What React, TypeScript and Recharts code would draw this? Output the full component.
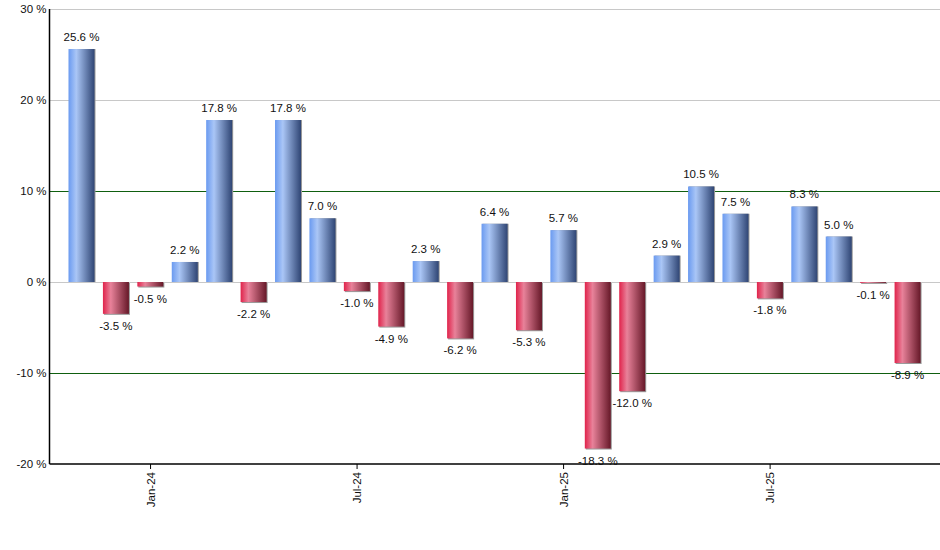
import React from "react";
import { BarChart, Bar, XAxis, YAxis, CartesianGrid, LabelList } from "recharts";

const months = [
  "Nov-23", "Dec-23", "Jan-24", "Feb-24", "Mar-24", "Apr-24", "May-24", "Jun-24", "Jul-24",
  "Aug-24", "Sep-24", "Oct-24", "Nov-24", "Dec-24", "Jan-25", "Feb-25", "Mar-25", "Apr-25",
  "May-25", "Jun-25", "Jul-25", "Aug-25", "Sep-25", "Oct-25", "Nov-25",
];
const changes = [
  25.6, -3.5, -0.5, 2.2, 17.8, -2.2, 17.8, 7.0, -1.0, -4.9, 2.3, -6.2, 6.4, -5.3, 5.7,
  -18.3, -12.0, 2.9, 10.5, 7.5, -1.8, 8.3, 5.0, -0.1, -8.9,
];
const shownTicks = ["Jan-24", "Jul-24", "Jan-25", "Jul-25"];
const yTicks = [-20, -10, 0, 10, 20, 30];
const gridColors: Record<number, string> = { [-20]: "none", [-10]: "#0f5f0f", 0: "#c8c8c8", 10: "#0f5f0f", 20: "#c8c8c8", 30: "#c8c8c8" };

const data = months.map((m, i) => ({ month: m, value: changes[i] }));

const FONT = "'Liberation Sans', Arial, sans-serif";

function BarShape(props: any) {
  const { x, y, width, height, payload } = props;
  const top = Math.min(y, y + height);
  const h = Math.abs(height);
  const fill = payload.value >= 0 ? "url(#gradUp)" : "url(#gradDown)";
  return (
    <g>
      <rect x={x + 1} y={top + (payload.value < 0 ? 1 : 0)} width={width} height={h} fill="#9a9a9a" />
      <rect x={x} y={top} width={width} height={h} fill={fill} />
    </g>
  );
}

function ValueLabel(props: any) {
  const { x, y, width, height, value } = props;
  const top = Math.min(y, y + height);
  const bottom = Math.max(y, y + height);
  const cy = value >= 0 ? top - 12 : bottom + 12;
  return (
    <text x={x + width / 2} y={cy} dy="0.35em" textAnchor="middle" fontSize={11.5} fontFamily={FONT} fill="#111">
      {`${value.toFixed(1)} %`}
    </text>
  );
}

function MonthTick(props: any) {
  const { x, y, payload } = props;
  if (!shownTicks.includes(payload.value)) return <g />;
  return (
    <g>
      <line x1={x} x2={x} y1={y} y2={y + 5} stroke="#000" />
      <text
        transform={`translate(${x}, ${y + 8}) rotate(-90)`}
        textAnchor="end"
        dy="0.35em"
        fontSize={11.5}
        fontFamily={FONT}
        fill="#111"
      >
        {payload.value}
      </text>
    </g>
  );
}

function GridLine(props: any) {
  const { x1, x2, y1, y2, index } = props;
  const v = yTicks[index];
  const stroke = gridColors[v] ?? "#c8c8c8";
  if (stroke === "none") return <g />;
  return <line x1={x1} x2={x2} y1={y1} y2={y2} stroke={stroke} strokeWidth={1} shapeRendering="crispEdges" />;
}

export default function App() {
  return (
    <div style={{ position: "absolute", left: 0, top: 0, width: 940, height: 550, background: "#fff" }}>
      <BarChart width={940} height={550} data={data} margin={{ top: 9, right: 0, bottom: 0, left: 0 }} barSize={26}>
        <defs>
          <linearGradient id="gradUp" x1="0" y1="0" x2="1" y2="0">
            <stop offset="0%" stopColor="#6a9af0" />
            <stop offset="30%" stopColor="#aac6f6" />
            <stop offset="100%" stopColor="#2f4574" />
          </linearGradient>
          <linearGradient id="gradDown" x1="0" y1="0" x2="1" y2="0">
            <stop offset="0%" stopColor="#e0234b" />
            <stop offset="30%" stopColor="#e8829a" />
            <stop offset="100%" stopColor="#661828" />
          </linearGradient>
        </defs>
        <CartesianGrid vertical={false} horizontal={(p: any) => <GridLine {...p} />} />
        <XAxis
          dataKey="month"
          interval={0}
          height={86}
          padding={{ left: 15, right: 15 }}
          tickLine={false}
          tickSize={0}
          tickMargin={0}
          tick={<MonthTick />}
          axisLine={{ stroke: "#000", strokeWidth: 1.5 }}
        />
        <YAxis
          domain={[-20, 30]}
          ticks={yTicks}
          width={49.5}
          tickLine={false}
          tickSize={0}
          tickMargin={3}
          axisLine={{ stroke: "#000", strokeWidth: 1.5 }}
          tickFormatter={(v) => `${v} %`}
          tick={{ fontSize: 11.5, fontFamily: FONT, fill: "#111" }}
        />
        <Bar dataKey="value" shape={<BarShape />} isAnimationActive={false}>
          <LabelList dataKey="value" content={<ValueLabel />} />
        </Bar>
      </BarChart>
    </div>
  );
}
